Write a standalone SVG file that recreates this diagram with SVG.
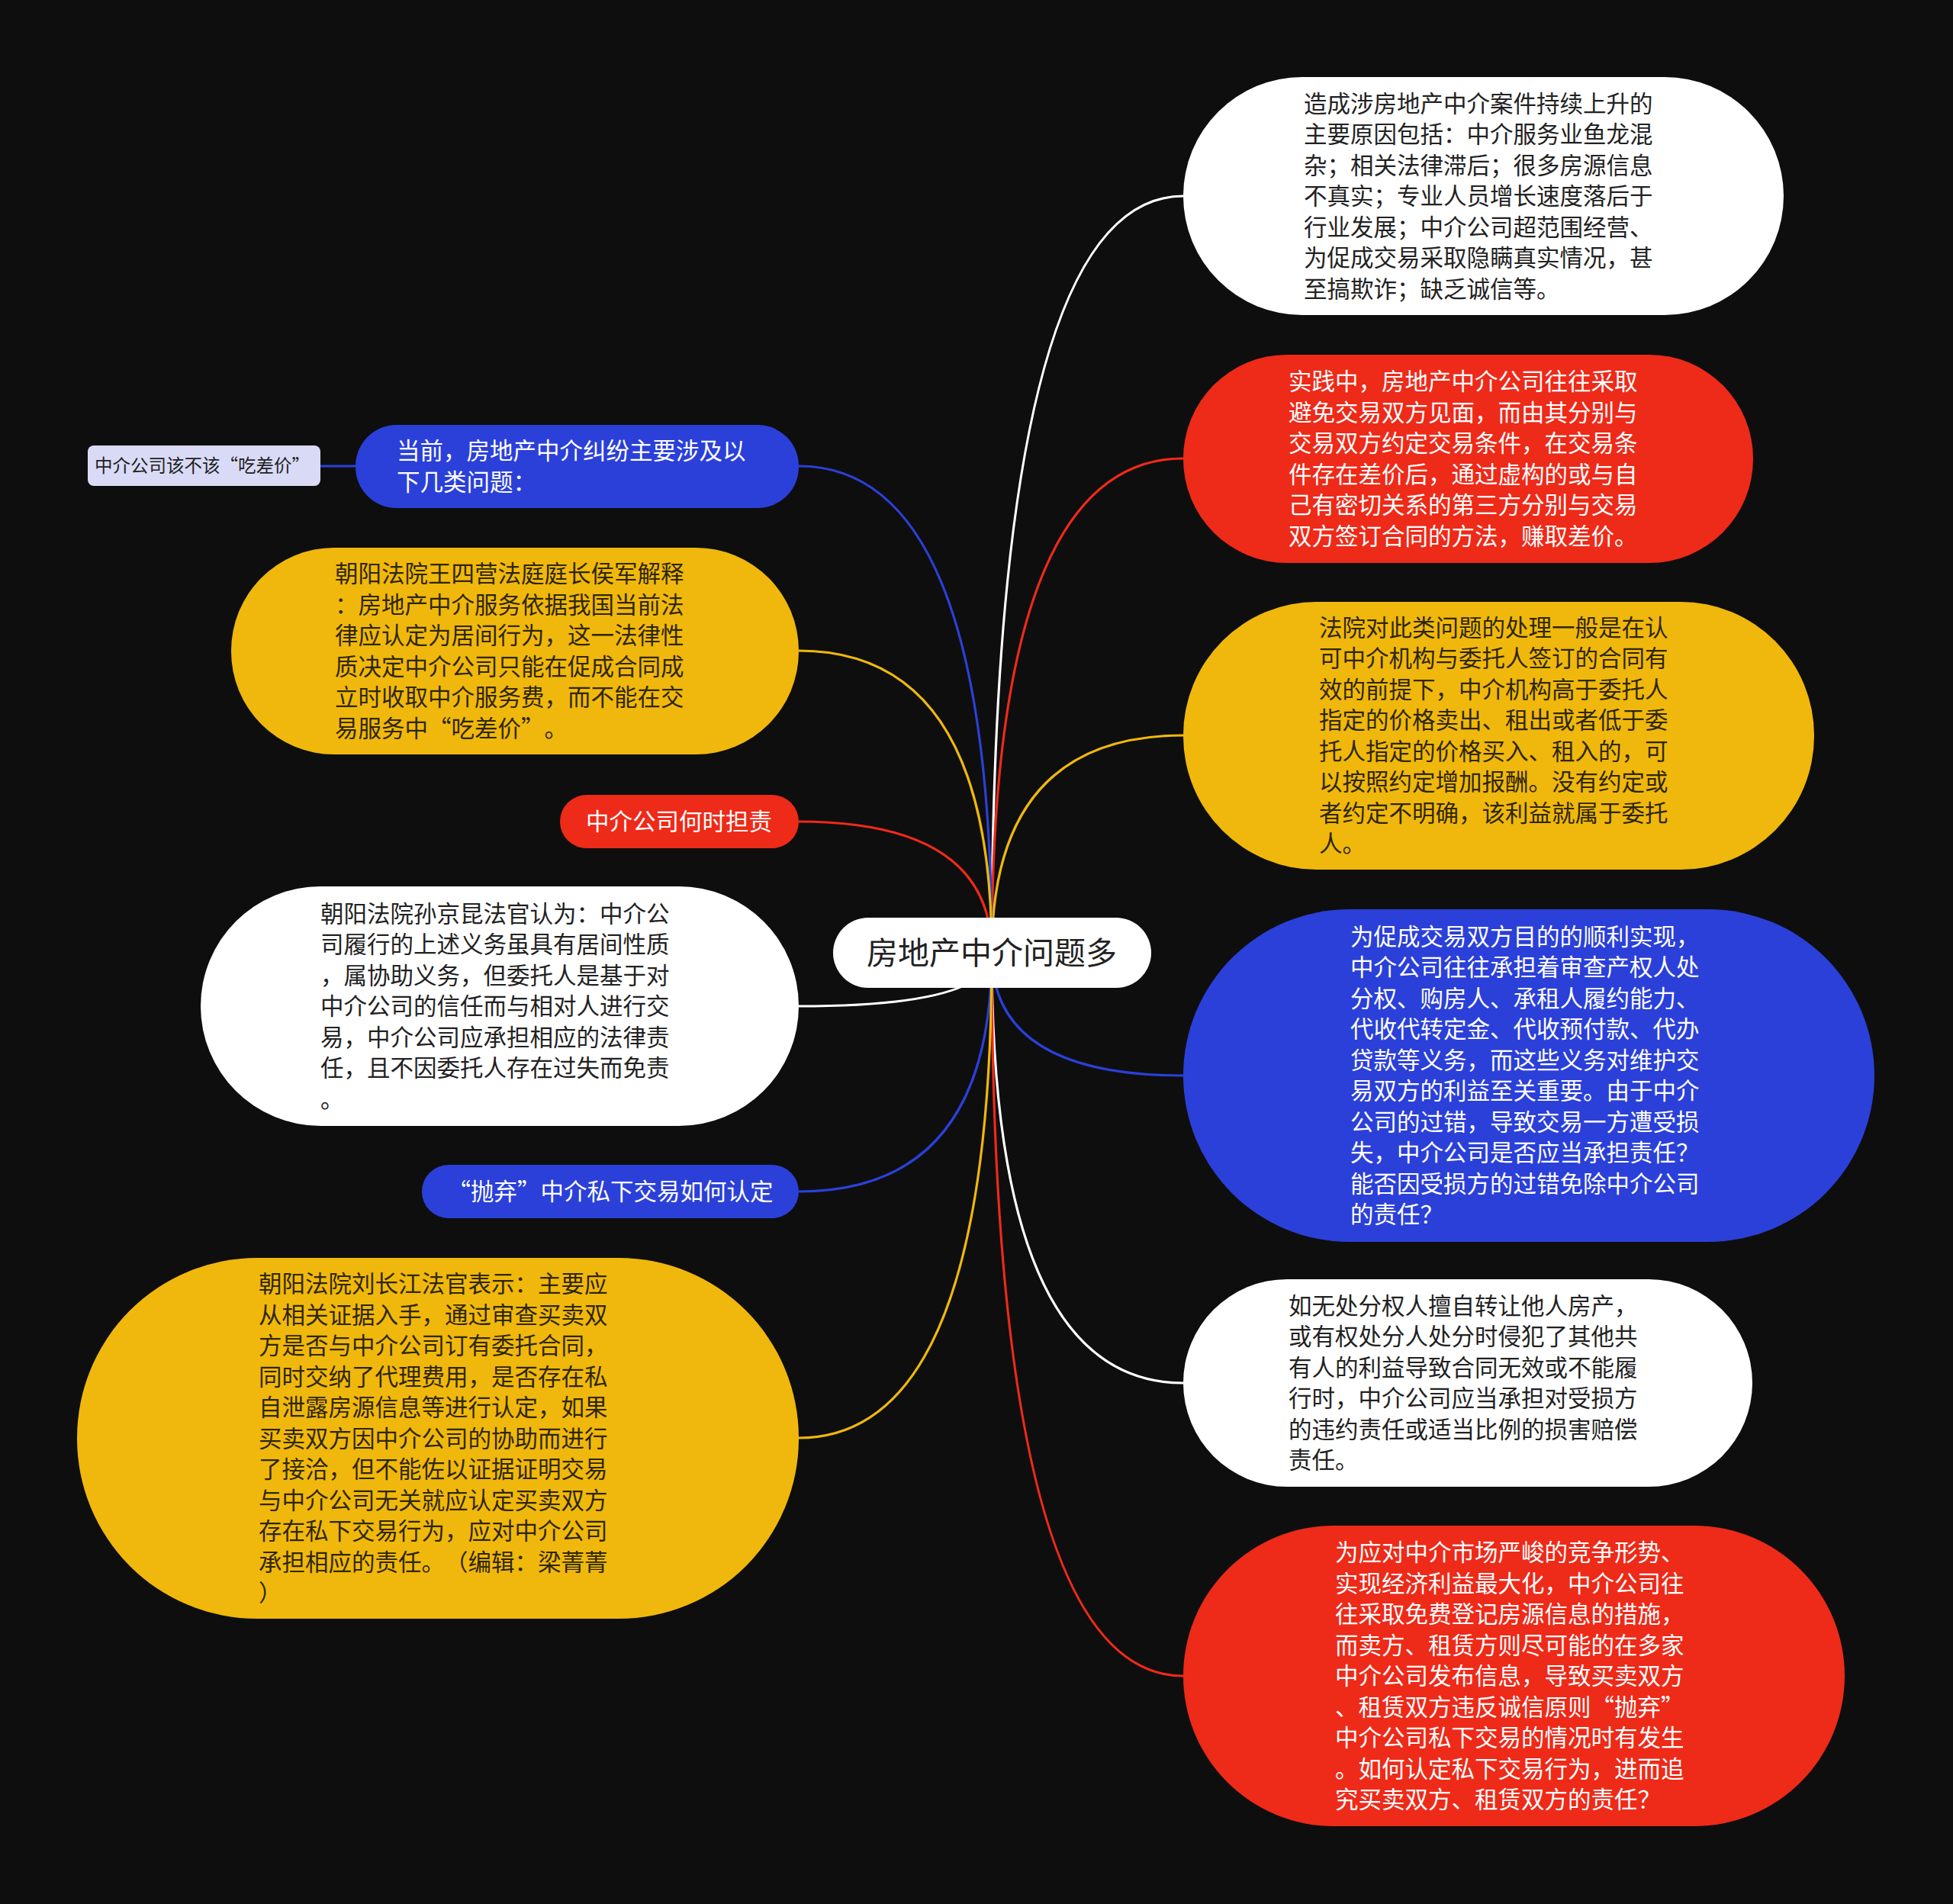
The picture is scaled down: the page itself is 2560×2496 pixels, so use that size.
<svg xmlns="http://www.w3.org/2000/svg" width="2560" height="2496" viewBox="0 0 2560 2496">
<style>
.t{font-family:"Noto Sans CJK SC","Noto Sans",sans-serif;font-size:30.5px;text-spacing-trim:space-all;font-feature-settings:"chws" 0,"halt" 0}
.dk{fill:#222222}
.wt{fill:#ffffff}
.yk{fill:#2e2606}
.c{fill:none;stroke-width:3.2}
.blue{fill:#2b40d9}
.red{fill:#ee2a19}
.yel{fill:#f0b80c}
.wht{fill:#ffffff}
</style>
<rect x="0" y="0" width="2560" height="2496" fill="#0e0e0e"/>
<g id="connectors">
<path class="c" stroke="#ffffff" d="M1300 1249 Q1300 257 1551 257"/>
<path class="c" stroke="#ee2a19" d="M1300 1249 Q1300 601 1551 601"/>
<path class="c" stroke="#f0b80c" d="M1300 1249 Q1300 964 1551 964"/>
<path class="c" stroke="#2b40d9" d="M1300 1249 Q1300 1410 1551 1410"/>
<path class="c" stroke="#ffffff" d="M1300 1249 Q1300 1813 1551 1813"/>
<path class="c" stroke="#ee2a19" d="M1300 1249 Q1300 2197 1551 2197"/>
<path class="c" stroke="#2b40d9" d="M1300 1249 Q1300 611 1047 611"/>
<path class="c" stroke="#f0b80c" d="M1300 1249 Q1300 853 1047 853"/>
<path class="c" stroke="#ee2a19" d="M1300 1249 Q1300 1077 1047 1077"/>
<path class="c" stroke="#ffffff" d="M1300 1249 Q1300 1319 1047 1319"/>
<path class="c" stroke="#2b40d9" d="M1300 1249 Q1300 1562 1047 1562"/>
<path class="c" stroke="#f0b80c" d="M1300 1249 Q1300 1885 1047 1885"/>
<path class="c" stroke="#2b40d9" d="M466 611 L420 611"/>
</g>
<g id="center">
<rect x="1092" y="1203" width="417" height="92" rx="46" class="wht"/>
<text x="1300" y="1263.5" text-anchor="middle" class="t dk" style="font-size:41px">房地产中介问题多</text>
</g>
<g id="r1">
<rect x="1551" y="101" width="787" height="312" rx="156" class="wht"/>
<text class="t dk"><tspan x="1709" y="146.5">造成涉房地产中介案件持续上升的</tspan><tspan x="1709" y="187">主要原因包括：中介服务业鱼龙混</tspan><tspan x="1709" y="227.5">杂；相关法律滞后；很多房源信息</tspan><tspan x="1709" y="268">不真实；专业人员增长速度落后于</tspan><tspan x="1709" y="308.5">行业发展；中介公司超范围经营、</tspan><tspan x="1709" y="349">为促成交易采取隐瞒真实情况，甚</tspan><tspan x="1709" y="389.5">至搞欺诈；缺乏诚信等。</tspan></text>
</g>
<g id="r2">
<rect x="1551" y="465" width="747" height="273" rx="136" class="red"/>
<text class="t wt"><tspan x="1689" y="511.25">实践中，房地产中介公司往往采取</tspan><tspan x="1689" y="551.75">避免交易双方见面，而由其分别与</tspan><tspan x="1689" y="592.25">交易双方约定交易条件，在交易条</tspan><tspan x="1689" y="632.75">件存在差价后，通过虚构的或与自</tspan><tspan x="1689" y="673.25">己有密切关系的第三方分别与交易</tspan><tspan x="1689" y="713.75">双方签订合同的方法，赚取差价。</tspan></text>
</g>
<g id="r3">
<rect x="1551" y="789" width="827" height="351" rx="175" class="yel"/>
<text class="t yk"><tspan x="1729" y="833.75">法院对此类问题的处理一般是在认</tspan><tspan x="1729" y="874.25">可中介机构与委托人签订的合同有</tspan><tspan x="1729" y="914.75">效的前提下，中介机构高于委托人</tspan><tspan x="1729" y="955.25">指定的价格卖出、租出或者低于委</tspan><tspan x="1729" y="995.75">托人指定的价格买入、租入的，可</tspan><tspan x="1729" y="1036.25">以按照约定增加报酬。没有约定或</tspan><tspan x="1729" y="1076.75">者约定不明确，该利益就属于委托</tspan><tspan x="1729" y="1117.25">人。</tspan></text>
</g>
<g id="r4">
<rect x="1551" y="1192" width="906" height="436" rx="218" class="blue"/>
<text class="t wt"><tspan x="1770" y="1238.75">为促成交易双方目的的顺利实现，</tspan><tspan x="1770" y="1279.25">中介公司往往承担着审查产权人处</tspan><tspan x="1770" y="1319.75">分权、购房人、承租人履约能力、</tspan><tspan x="1770" y="1360.25">代收代转定金、代收预付款、代办</tspan><tspan x="1770" y="1400.75">贷款等义务，而这些义务对维护交</tspan><tspan x="1770" y="1441.25">易双方的利益至关重要。由于中介</tspan><tspan x="1770" y="1481.75">公司的过错，导致交易一方遭受损</tspan><tspan x="1770" y="1522.25">失，中介公司是否应当承担责任？</tspan><tspan x="1770" y="1562.75">能否因受损方的过错免除中介公司</tspan><tspan x="1770" y="1603.25">的责任？</tspan></text>
</g>
<g id="r5">
<rect x="1551" y="1677" width="746" height="272" rx="136" class="wht"/>
<text class="t dk"><tspan x="1689" y="1722.75">如无处分权人擅自转让他人房产，</tspan><tspan x="1689" y="1763.25">或有权处分人处分时侵犯了其他共</tspan><tspan x="1689" y="1803.75">有人的利益导致合同无效或不能履</tspan><tspan x="1689" y="1844.25">行时，中介公司应当承担对受损方</tspan><tspan x="1689" y="1884.75">的违约责任或适当比例的损害赔偿</tspan><tspan x="1689" y="1925.25">责任。</tspan></text>
</g>
<g id="r6">
<rect x="1551" y="2000" width="867" height="394" rx="197" class="red"/>
<text class="t wt"><tspan x="1750" y="2046">为应对中介市场严峻的竞争形势、</tspan><tspan x="1750" y="2086.5">实现经济利益最大化，中介公司往</tspan><tspan x="1750" y="2127">往采取免费登记房源信息的措施，</tspan><tspan x="1750" y="2167.5">而卖方、租赁方则尽可能的在多家</tspan><tspan x="1750" y="2208">中介公司发布信息，导致买卖双方</tspan><tspan x="1750" y="2248.5">、租赁双方违反诚信原则“抛弃”</tspan><tspan x="1750" y="2289">中介公司私下交易的情况时有发生</tspan><tspan x="1750" y="2329.5">。如何认定私下交易行为，进而追</tspan><tspan x="1750" y="2370">究买卖双方、租赁双方的责任？</tspan></text>
</g>
<g id="l0">
<rect x="115" y="584" width="305" height="53" rx="8" fill="#d9dbf6"/>
<text x="265" y="619" text-anchor="middle" class="t dk" style="font-size:23.5px">中介公司该不该“吃差价”</text>
</g>
<g id="l1">
<rect x="466" y="557" width="581" height="109" rx="54" class="blue"/>
<text class="t wt"><tspan x="520" y="602.25">当前，房地产中介纠纷主要涉及以</tspan><tspan x="520" y="642.75">下几类问题：</tspan></text>
</g>
<g id="l2">
<rect x="303" y="718" width="744" height="271" rx="135" class="yel"/>
<text class="t yk"><tspan x="439" y="763.25">朝阳法院王四营法庭庭长侯军解释</tspan><tspan x="439" y="803.75">：房地产中介服务依据我国当前法</tspan><tspan x="439" y="844.25">律应认定为居间行为，这一法律性</tspan><tspan x="439" y="884.75">质决定中介公司只能在促成合同成</tspan><tspan x="439" y="925.25">立时收取中介服务费，而不能在交</tspan><tspan x="439" y="965.75">易服务中“吃差价”。</tspan></text>
</g>
<g id="l3">
<rect x="734" y="1042" width="313" height="70" rx="35" class="red"/>
<text x="890" y="1088" text-anchor="middle" class="t wt">中介公司何时担责</text>
</g>
<g id="l4">
<rect x="263" y="1162" width="784" height="314" rx="157" class="wht"/>
<text class="t dk"><tspan x="420" y="1208.5">朝阳法院孙京昆法官认为：中介公</tspan><tspan x="420" y="1249">司履行的上述义务虽具有居间性质</tspan><tspan x="420" y="1289.5">，属协助义务，但委托人是基于对</tspan><tspan x="420" y="1330">中介公司的信任而与相对人进行交</tspan><tspan x="420" y="1370.5">易，中介公司应承担相应的法律责</tspan><tspan x="420" y="1411">任，且不因委托人存在过失而免责</tspan><tspan x="420" y="1451.5">。</tspan></text>
</g>
<g id="l5">
<rect x="553" y="1527" width="494" height="70" rx="35" class="blue"/>
<text x="800" y="1573" text-anchor="middle" class="t wt">“抛弃”中介私下交易如何认定</text>
</g>
<g id="l6">
<rect x="101" y="1649" width="946" height="473" rx="236" class="yel"/>
<text class="t yk"><tspan x="339" y="1694">朝阳法院刘长江法官表示：主要应</tspan><tspan x="339" y="1734.5">从相关证据入手，通过审查买卖双</tspan><tspan x="339" y="1775">方是否与中介公司订有委托合同，</tspan><tspan x="339" y="1815.5">同时交纳了代理费用，是否存在私</tspan><tspan x="339" y="1856">自泄露房源信息等进行认定，如果</tspan><tspan x="339" y="1896.5">买卖双方因中介公司的协助而进行</tspan><tspan x="339" y="1937">了接洽，但不能佐以证据证明交易</tspan><tspan x="339" y="1977.5">与中介公司无关就应认定买卖双方</tspan><tspan x="339" y="2018">存在私下交易行为，应对中介公司</tspan><tspan x="339" y="2058.5">承担相应的责任。（编辑：梁菁菁</tspan><tspan x="339" y="2099">）</tspan></text>
</g>
</svg>
